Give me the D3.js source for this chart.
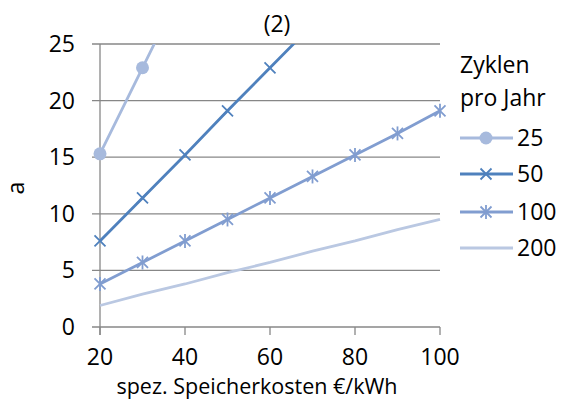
<!DOCTYPE html>
<html>
<head>
<meta charset="utf-8">
<script src="https://cdn.jsdelivr.net/npm/d3@7"></script>
<style>
  html, body { margin: 0; padding: 0; background: #fff; }
  svg text { font-family: "Open Sans", Lato, sans-serif; fill: #000; }
</style>
</head>
<body>
<svg id="chart" width="563" height="401"></svg>
<script>
// Storage cost (€/kWh) on the x axis
const costs = [20, 30, 40, 50, 60, 70, 80, 90, 100];
// Cycles per year, one series each
const cycleSeries = ["25", "50", "100", "200"];
const values25  = [15.3, 22.9, 30.5, 38.1, 45.8, 53.4, 61.0, 68.6, 76.3];
const values50  = [7.6, 11.4, 15.2, 19.1, 22.9, 26.7, 30.5, 34.3, 38.1];
const values100 = [3.8, 5.7, 7.6, 9.5, 11.4, 13.3, 15.2, 17.1, 19.1];
const values200 = [1.9, 2.9, 3.8, 4.8, 5.7, 6.7, 7.6, 8.6, 9.5];
const xTicks = [20, 40, 60, 80, 100];
const yTicks = [0, 5, 10, 15, 20, 25];

const series = [
  { name: cycleSeries[0], values: values25,  color: "#A7BADD", marker: "circle" },
  { name: cycleSeries[1], values: values50,  color: "#4F81BD", marker: "x" },
  { name: cycleSeries[2], values: values100, color: "#819DD0", marker: "star" },
  { name: cycleSeries[3], values: values200, color: "#BAC8E2", marker: "none" }
];

const svg = d3.select("#chart");
const plot = { left: 100, right: 440, top: 44, bottom: 327 };
const fs = 23;

const x = d3.scaleLinear().domain([20, 100]).range([plot.left, plot.right]);
const y = d3.scaleLinear().domain([0, 25]).range([plot.bottom, plot.top]);

const gridColor = "#878787";

// Horizontal gridlines with left tick stubs
svg.append("g").selectAll("line").data(yTicks).join("line")
  .attr("x1", plot.left - 8).attr("x2", plot.right)
  .attr("y1", d => y(d)).attr("y2", d => y(d))
  .attr("stroke", gridColor).attr("stroke-width", 1.3);

// Vertical axis line
svg.append("line")
  .attr("x1", plot.left).attr("x2", plot.left)
  .attr("y1", plot.top).attr("y2", plot.bottom + 8)
  .attr("stroke", gridColor).attr("stroke-width", 1.3);

// X tick marks below the axis
svg.append("g").selectAll("line").data(xTicks).join("line")
  .attr("x1", d => x(d)).attr("x2", d => x(d))
  .attr("y1", plot.bottom).attr("y2", plot.bottom + 8)
  .attr("stroke", gridColor).attr("stroke-width", 1.3);

// Y tick labels
svg.append("g").selectAll("text").data(yTicks).join("text")
  .attr("x", 75).attr("y", d => y(d) + 8)
  .attr("text-anchor", "end").attr("font-size", fs)
  .text(d => d);

// X tick labels
svg.append("g").selectAll("text").data(xTicks).join("text")
  .attr("x", d => x(d)).attr("y", 365)
  .attr("text-anchor", "middle").attr("font-size", fs)
  .text(d => d);

// Axis titles and chart title
svg.append("text").attr("x", 257).attr("y", 394)
  .attr("text-anchor", "middle").attr("font-size", 21.5)
  .text("spez. Speicherkosten €/kWh");
svg.append("text")
  .attr("transform", "translate(24,188) rotate(-90)")
  .attr("text-anchor", "middle").attr("font-size", fs)
  .text("a");
svg.append("text").attr("x", 277).attr("y", 32)
  .attr("text-anchor", "middle").attr("font-size", fs)
  .text("(2)");

// Clip series to the plot area
svg.append("defs").append("clipPath").attr("id", "plotClip")
  .append("rect")
  .attr("x", plot.left - 10).attr("y", plot.top)
  .attr("width", plot.right - plot.left + 20)
  .attr("height", plot.bottom - plot.top + 10);

function drawMarker(g, type, cx, cy, color) {
  if (type === "circle") {
    g.append("circle").attr("cx", cx).attr("cy", cy).attr("r", 6.5).attr("fill", color);
  } else if (type === "x" || type === "star") {
    const s = 5.5;
    g.append("path")
      .attr("d", `M${cx - s},${cy - s}L${cx + s},${cy + s}M${cx - s},${cy + s}L${cx + s},${cy - s}`)
      .attr("stroke", color).attr("stroke-width", 1.8).attr("fill", "none");
    if (type === "star") {
      g.append("path")
        .attr("d", `M${cx},${cy - 7}L${cx},${cy + 7}`)
        .attr("stroke", color).attr("stroke-width", 1.8);
    }
  }
}

const line = d3.line().x(d => x(d[0])).y(d => y(d[1]));
const seriesG = svg.append("g").attr("clip-path", "url(#plotClip)");

// Draw from back to front: light series first
[...series].reverse().forEach(s => {
  const pts = costs.map((c, i) => [c, s.values[i]]);
  const g = seriesG.append("g");
  g.append("path").datum(pts)
    .attr("d", line)
    .attr("fill", "none")
    .attr("stroke", s.color)
    .attr("stroke-width", 2.8);
  pts.filter(p => p[1] <= 25).forEach(p => drawMarker(g, s.marker, x(p[0]), y(p[1]), s.color));
});

// Legend
svg.append("text").attr("x", 460).attr("y", 73).attr("font-size", fs).text("Zyklen");
svg.append("text").attr("x", 460).attr("y", 106).attr("font-size", fs).text("pro Jahr");
const legendY = [138, 174, 212, 248];
series.forEach((s, i) => {
  const g = svg.append("g");
  g.append("line").attr("x1", 460).attr("x2", 513)
    .attr("y1", legendY[i]).attr("y2", legendY[i])
    .attr("stroke", s.color).attr("stroke-width", 2.8);
  drawMarker(g, s.marker, 486, legendY[i], s.color);
  g.append("text").attr("x", 517).attr("y", legendY[i] + 8)
    .attr("font-size", fs).text(s.name);
});
</script>
</body>
</html>
